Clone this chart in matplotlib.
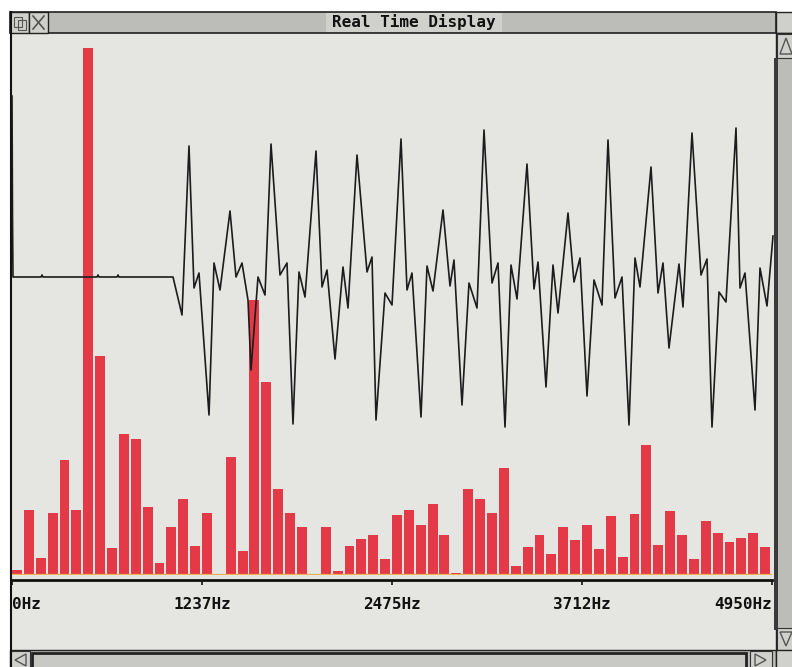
import matplotlib
matplotlib.use("Agg")
import matplotlib.pyplot as plt
from matplotlib.patches import Rectangle, Polygon
import numpy as np

# ---------------- data ----------------
n_bins = 64
max_freq = 4950
# spectrum magnitudes (one per frequency bin)
magnitudes = [5, 65, 17, 62, 115, 65, 527, 219, 27, 141, 136, 68, 12, 48, 76, 29,
              62, 0, 118, 24, 275, 193, 86, 62, 48, 0, 48, 4, 29, 36, 40, 16,
              60, 65, 50, 71, 40, 2, 86, 76, 62, 107, 9, 28, 40, 21, 48, 35,
              50, 26, 59, 18, 61, 130, 30, 64, 40, 16, 54, 42, 33, 37, 42, 28]
tick_freqs = [0, 1237, 2475, 3712, 4950]
tick_labels = ["0Hz", "1237Hz", "2475Hz", "3712Hz", "4950Hz"]

# time-domain waveform vertices (sample index, amplitude)
wave_t = [0, 0.5, 1, 29, 30, 31, 85, 86, 87, 105, 106, 107, 161,
          170, 177, 182, 187, 197, 202, 208, 218, 224, 230, 236, 239, 246, 253,
          259, 268, 275, 281, 287, 293, 304, 310, 315, 323, 331, 336, 345, 355,
          360, 364, 373, 380, 389, 395, 400, 409, 415, 421, 431, 438, 442, 450,
          457, 465, 472, 480, 486, 493, 499, 505, 515, 522, 526, 534, 541, 546,
          556, 562, 568, 575, 582, 590, 596, 603, 610, 617, 623, 628, 639, 646,
          651, 657, 667, 671, 680, 689, 695, 700, 707, 714, 724, 728, 733, 743,
          748, 755, 761]
wave_amp = [181, 60, 0, 0, 2, 0, 0, 2, 0, 0, 2, 0, 0,
            -38, 131, -11, 4, -138, 14, -13, 66, 0, 14, -23, -93, 0, -18,
            133, 2, 14, -147, 5, -20, 126, -10, 7, -82, 10, -31, 122, 5,
            20, -143, -16, -28, 138, -13, 4, -140, 11, -14, 67, -9, 17, -128,
            -6, -31, 147, -6, 14, -150, 12, -22, 113, -12, 15, -110, 12, -36,
            64, -5, 19, -119, -3, -28, 137, -21, 0, -148, 19, -10, 110, -16,
            14, -71, 13, -30, 144, 2, 18, -150, -15, -25, 149, -11, 4, -133,
            9, -29, 41]

# ---------------- figure ----------------
W, H = 792, 667
fig = plt.figure(figsize=(W / 100, H / 100), dpi=100)
fig.patch.set_facecolor("white")

font_ui = ["DejaVu Sans Mono", "DejaVu Sans"]

# window chrome (pixel coordinates)
bg = fig.add_axes([0, 0, 1, 1])
bg.set_xlim(0, W)
bg.set_ylim(H, 0)
bg.axis("off")

def rect(x0, y0, x1, y1, fc, ec="none", lw=0, z=1):
    bg.add_patch(Rectangle((x0, y0), x1 - x0, y1 - y0, facecolor=fc,
                           edgecolor=ec, linewidth=lw, zorder=z))

chrome = "#bcbcb8"
work = "#e5e5e1"
# work area
rect(10, 33, 776, 650, work)
# title bar
rect(10, 12, 776, 33, chrome, "#222222", 1.2)
rect(326, 13, 502, 32, "#d0d0cc")
rect(10, 12, 29, 33, "#cfcfcb", "#222222", 1.0)
rect(29, 12, 48, 33, "#cfcfcb", "#222222", 1.0)
bg.plot([33, 44], [16, 29], color="#555555", lw=1.2, zorder=3)
bg.plot([33, 44], [29, 16], color="#555555", lw=1.2, zorder=3)
rect(14, 17, 22, 27, "none", "#555555", 0.8, z=3)
rect(18, 20, 26, 30, "none", "#555555", 0.8, z=3)
rect(776, 12, 795, 33, "#cfcfcb", "#222222", 1.0)
bg.text(414, 22.5, "Real Time Display", ha="center", va="center",
        fontsize=11.5, fontweight="bold", family=font_ui, color="#111111", zorder=4)
# right scroll bar
rect(776, 33, 795, 650, chrome, "#222222", 1.0)
rect(777, 34, 795, 58, "#d0d0cc", "#333333", 0.8)
bg.add_patch(Polygon([[780, 54], [786, 38], [792, 54]], closed=True,
                     facecolor="none", edgecolor="#555555", lw=1.0, zorder=3))
rect(774, 58, 778, 630, "#3a3a3a")
rect(777, 628, 795, 650, "#d0d0cc", "#333333", 0.8)
bg.add_patch(Polygon([[780, 632], [786, 646], [792, 632]], closed=True,
                     facecolor="none", edgecolor="#555555", lw=1.0, zorder=3))
# bottom scroll bar
rect(10, 650, 776, 670, chrome, "#222222", 1.0)
rect(11, 651, 30, 670, "#d0d0cc", "#333333", 0.8)
bg.add_patch(Polygon([[26, 654], [15, 660], [26, 666]], closed=True,
                     facecolor="none", edgecolor="#555555", lw=1.0, zorder=3))
rect(32, 653, 746, 670, "#c8c8c4", "#222222", 2.0)
rect(750, 651, 772, 670, "#d0d0cc", "#333333", 0.8)
bg.add_patch(Polygon([[755, 654], [766, 660], [755, 666]], closed=True,
                     facecolor="none", edgecolor="#555555", lw=1.0, zorder=3))
rect(776, 650, 795, 670, "#d0d0cc", "#222222", 1.0)
# left window border
bg.plot([10.5, 10.5], [12, H], color="#111111", lw=1.5, zorder=5)

# ---------------- spectrum axes ----------------
x0, x1, base, top = 12, 772, 575, 33
rect_ax = [x0 / W, (H - base) / H, (x1 - x0) / W, (base - top) / H]
ax = fig.add_axes(rect_ax)
ax.patch.set_alpha(0)
bin_w = max_freq / n_bins
freqs = np.arange(n_bins) * bin_w
ax.bar(freqs, magnitudes, width=bin_w * 0.84, align="edge",
       color="#e43a48", edgecolor="none", zorder=2)
ax.axhline(0, color="#f0b050", lw=1.6, zorder=3)
ax.set_xlim(0, max_freq)
ax.set_ylim(0, base - top)
for s in ("top", "left", "right"):
    ax.spines[s].set_visible(False)
ax.spines["bottom"].set_position(("outward", 3.5))
ax.spines["bottom"].set_linewidth(2.0)
ax.spines["bottom"].set_color("#111111")
ax.set_yticks([])
ax.set_xticks(tick_freqs, tick_labels)
ax.tick_params(axis="x", direction="out", length=3.5, width=1.2, pad=9,
               colors="#111111", labelsize=11.5)
for lab in ax.get_xticklabels():
    lab.set_family(font_ui)
    lab.set_fontweight("bold")
labs = ax.get_xticklabels()
labs[0].set_ha("left")
labs[-1].set_ha("right")

# ---------------- waveform axes ----------------
wx = fig.add_axes(rect_ax)
wx.patch.set_alpha(0)
wx.axis("off")
wx.set_xlim(0, x1 - x0)
wx.set_ylim(-(base - 277), 277 - top)
wx.plot(wave_t, wave_amp, color="#1c1c1c", lw=1.2, clip_on=False, zorder=4)

fig.savefig("out.png", dpi=100)
